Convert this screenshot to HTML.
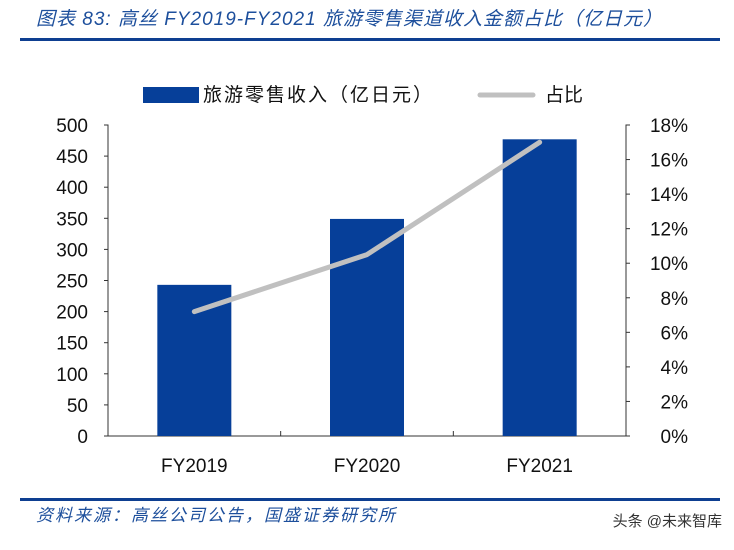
<!DOCTYPE html>
<html><head><meta charset="utf-8"><style>
body{margin:0;background:#fff;width:734px;height:545px;overflow:hidden;font-family:"Liberation Sans","Noto Sans CJK SC",sans-serif}
</style></head><body>
<svg width="734" height="545" xmlns="http://www.w3.org/2000/svg" id="chart">
<text x="36" y="25" font-size="19" font-style="italic" fill="#1d4f9c" letter-spacing="1" font-family="Liberation Sans,Noto Sans CJK SC,sans-serif">图表 83:  高丝 FY2019-FY2021 旅游零售渠道收入金额占比（亿日元）</text>
<rect x="20" y="38" width="700" height="3" fill="#0e3f91"/>
<g>
<rect x="143" y="87" width="56" height="16" fill="#063f99"/>
<text x="203" y="101" font-size="19" fill="#111" letter-spacing="2">旅游零售收入（亿日元）</text>
<line x1="480" y1="95" x2="533" y2="95" stroke="#c0c0c0" stroke-width="5" stroke-linecap="round"/>
<text x="545" y="101" font-size="19" fill="#111">占比</text>
</g>
<g id="axes"></g>
<g id="bars"></g>
<g id="line"></g>
<rect x="20" y="498" width="700" height="3" fill="#0e3f91"/>
<text x="36" y="521" font-size="17" font-style="italic" fill="#1d4f9c" letter-spacing="2">资料来源：高丝公司公告，国盛证券研究所</text>
<text x="722" y="526" font-size="15" fill="#333" text-anchor="end">头条 @未来智库</text>
</svg>
<script>
const categories=["FY2019","FY2020","FY2021"];
const revenue=[243,349,477];
const share=[7.2,10.5,17.0];
const leftTicks=[0,50,100,150,200,250,300,350,400,450,500];
const rightTicks=[0,2,4,6,8,10,12,14,16,18];
const NS="http://www.w3.org/2000/svg";
const X0=108,X1=626,Y0=436,Y1=125;
const band=(X1-X0)/categories.length;
const xc=i=>X0+band*(i+0.5);
const yL=v=>Y0-(v/500)*(Y0-Y1);
const yR=v=>Y0-(v/18)*(Y0-Y1);
function mk(tag,attrs,parent){const e=document.createElementNS(NS,tag);for(const k in attrs)e.setAttribute(k,attrs[k]);parent.appendChild(e);return e;}
const axes=document.getElementById('axes');
const la=mk('path',{d:`M${X0-4},${Y1}H${X0}V${Y0}H${X1}V${Y1}H${X1+4}`,fill:'none',stroke:'#333','stroke-width':1},axes);


leftTicks.forEach(v=>{
 const y=yL(v);
 mk('line',{x1:X0-4,x2:X0,y1:y,y2:y,stroke:'#333'},axes);
 const t=mk('text',{x:88,y:y+7,'font-size':19,'text-anchor':'end',fill:'#111'},axes);t.textContent=v;
 
 
});
rightTicks.forEach(v=>{
 const y=yR(v);
 mk('line',{x1:X1,x2:X1+4,y1:y,y2:y,stroke:'#333'},axes);
 const t=mk('text',{x:688,y:y+7,'font-size':19,'text-anchor':'end',fill:'#111'},axes);t.textContent=v+'%';
 
 
});
categories.forEach((c,i)=>{
 if(i>0) mk('line',{x1:X0+band*i,x2:X0+band*i,y1:Y0,y2:Y0-5,stroke:'#333'},axes);
 const t=mk('text',{x:xc(i),y:472,'font-size':19,'text-anchor':'middle',fill:'#111'},axes);t.textContent=c;
 
 
});
const bars=document.getElementById('bars');
revenue.forEach((v,i)=>{
 const b=mk('rect',{x:xc(i)-37,y:yL(v),width:74,height:Y0-yL(v),fill:'#063f99'},bars);
 
 
});
const pl=mk('polyline',{points:share.map((v,i)=>xc(i)+','+yR(v)).join(' '),fill:'none',stroke:'#c0c0c0','stroke-width':5,'stroke-linecap':'round','stroke-linejoin':'round'},document.getElementById('line'));


</script>
</body></html>
